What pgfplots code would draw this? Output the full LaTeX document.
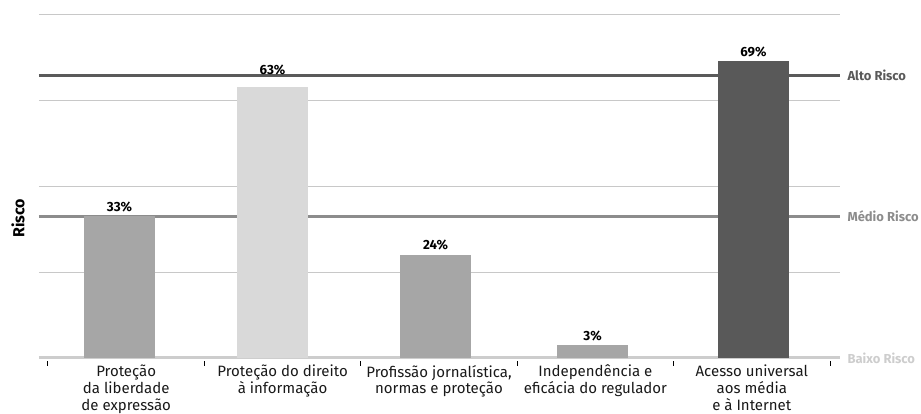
\documentclass[border=0pt]{standalone}
\usepackage{pgfplots}
\pgfplotsset{compat=1.18}
\usepackage{fontspec}
\setmainfont{Fira Sans}
\definecolor{gridc}{HTML}{C8C8C8}
\definecolor{altoc}{HTML}{5A5A5A}
\definecolor{medioc}{HTML}{8C8C8C}
\definecolor{baixoc}{HTML}{CDCDCD}
\definecolor{barA}{HTML}{A6A6A6}
\definecolor{barB}{HTML}{D9D9D9}
\definecolor{barC}{HTML}{595959}
\begin{document}
\begin{tikzpicture}
\useasboundingbox (-39pt,-53pt) rectangle (882pt,361pt);
\begin{axis}[
  at={(0,0)}, anchor=south west,
  scale only axis, width=801pt, height=347pt,
  xmin=39, xmax=840, ymin=-0.7, ymax=80,
  axis line style={draw=none},
  clip=false,
  /pgf/number format/assume math mode=true,
  ytick={20,40,60,80}, yticklabels={}, ymajorgrids,
  major grid style={gridc, line width=0.9pt},
  major y tick style={draw=none},
  xtick={48,204.4,360.8,517.2,673.6,830},
  xticklabels={},
  major x tick style={draw=black, line width=1pt},
  major tick length=5pt, tick align=outside, xtick pos=bottom,
  extra x ticks={126.2,282.6,439,595.4,751.8},
  extra x tick labels={{Proteção\\da liberdade\\de expressão},{Proteção do direito\\à informação},{Profissão jornalística,\\normas e proteção},{Independência e\\eficácia do regulador},{Acesso universal\\aos média\\e à Internet}},
  extra x tick style={major tick length=0pt, grid=none, xticklabel style={align=center, font=\fontsize{15}{16.8}\selectfont, yshift=-0.5pt, text=black!90}},
  ybar, bar width=71pt,
  nodes near coords={\pgfmathprintnumber{\pgfplotspointmeta}\%},
  every node near coord/.append style={font=\fontsize{13.3}{15}\selectfont\bfseries, black, yshift=1pt},
]
% risk level lines
\addplot[ybar=false, sharp plot, baixoc, line width=3pt, nodes near coords={}] coordinates {(39,0) (840,0)};
\addplot[ybar=false, sharp plot, medioc, line width=3pt, nodes near coords={}] coordinates {(39,32.9) (840,32.9)};
\addplot[ybar=false, sharp plot, altoc, line width=3pt, nodes near coords={}] coordinates {(39,65.8) (840,65.8)};
% bars
\addplot[fill=barA, draw=none, bar shift=0pt] coordinates {(119.5,33)};
\addplot[fill=barB, draw=none, bar shift=0pt, every node near coord/.append style={yshift=8pt}] coordinates {(272.5,63)};
\addplot[fill=barA, draw=none, bar shift=0pt] coordinates {(435.5,24)};
\addplot[fill=barA, draw=none, bar shift=0pt] coordinates {(592.5,3)};
\addplot[fill=barC, draw=none, bar shift=0pt] coordinates {(753.5,69)};
% labels
\node[anchor=west, font=\fontsize{13}{15}\selectfont\bfseries, text=altoc] at (axis cs:844,65.8) {Alto Risco};
\node[anchor=west, font=\fontsize{13}{15}\selectfont\bfseries, text=medioc] at (axis cs:844,32.9) {Médio Risco};
\node[anchor=west, font=\fontsize{13}{15}\selectfont\bfseries, text=baixoc] at (axis cs:844,0) {Baixo Risco};
\node[rotate=90, font=\fontsize{16}{18}\selectfont\bfseries] at (axis cs:18,32.5) {Risco};
\end{axis}
\end{tikzpicture}
\end{document}
